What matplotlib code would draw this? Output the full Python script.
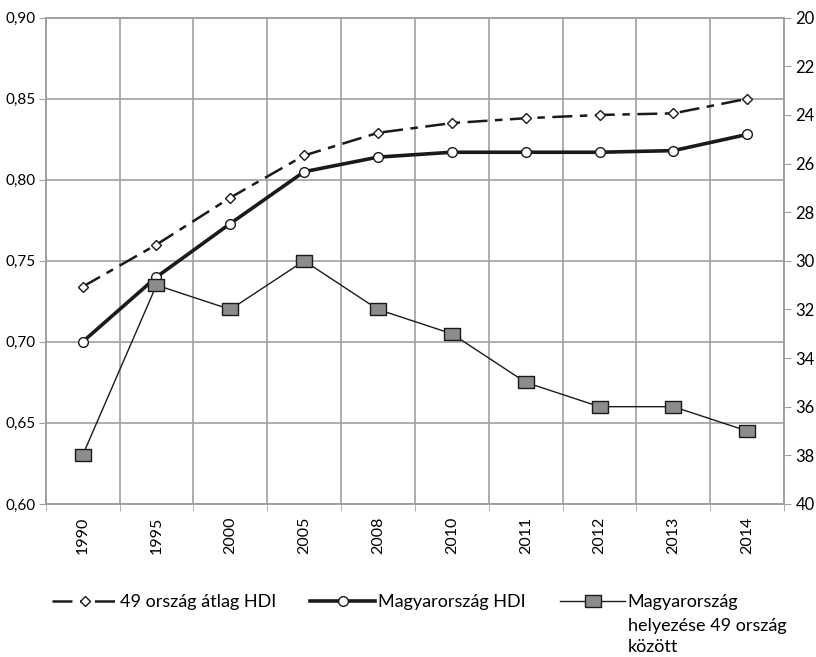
import matplotlib.pyplot as plt
from matplotlib.ticker import FuncFormatter, FixedLocator, NullFormatter
import numpy as np

plt.rcParams['font.family'] = ['Lato', 'DejaVu Sans']

# data
years = ['1990', '1995', '2000', '2005', '2008', '2010', '2011', '2012', '2013', '2014']
avg_hdi = [0.734, 0.760, 0.789, 0.815, 0.829, 0.835, 0.838, 0.840, 0.841, 0.850]
hun_hdi = [0.700, 0.740, 0.773, 0.805, 0.814, 0.817, 0.817, 0.817, 0.818, 0.828]
hun_rank = [38, 31, 32, 30, 32, 33, 35, 36, 36, 37]

grid_c = '#a0a0a0'
# slightly wide rectangle marker, like the original
rect = [(-1.35, -1), (1.35, -1), (1.35, 1), (-1.35, 1), (-1.35, -1)]

fig = plt.figure(figsize=(8.16, 6.57), dpi=100)
ax = fig.add_axes([0.056, 0.233, 0.905, 0.74])
ax2 = ax.twinx()

x = np.arange(len(years))

l1, = ax.plot(x, avg_hdi, color='#1a1a1a', lw=1.8, dashes=(8, 3, 3, 3),
              marker='D', ms=5, mfc='white', mec='#1a1a1a', mew=1.0, zorder=3)
l2, = ax.plot(x, hun_hdi, color='#1a1a1a', lw=2.6,
              marker='o', ms=7, mfc='white', mec='#1a1a1a', mew=1.0, zorder=3)
l3, = ax2.plot(x, hun_rank, color='#1a1a1a', lw=1.0,
               marker=rect, ms=12, mfc='#8c8c8c', mec='#1a1a1a', mew=1.0, zorder=3)

ax.set_xlim(-0.5, len(years) - 0.5)
ax.set_ylim(0.60, 0.90)
ax.set_yticks(np.arange(0.60, 0.901, 0.05))
ax.yaxis.set_major_formatter(FuncFormatter(lambda v, p: f'{v:.2f}'.replace('.', ',')))
ax2.set_ylim(40, 20)
ax2.set_yticks(range(20, 41, 2))

ax.set_xticks(x)
ax.set_xticklabels(years, rotation=90)
ax.tick_params(axis='x', which='major', length=0, pad=9, labelsize=11.5)
ax.xaxis.set_minor_locator(FixedLocator(np.arange(-0.5, len(years), 1)))
ax.xaxis.set_minor_formatter(NullFormatter())
ax.tick_params(axis='x', which='minor', length=5, color=grid_c)
ax.grid(True, which='minor', axis='x', color=grid_c, lw=1.2)
ax.grid(True, which='major', axis='y', color=grid_c, lw=1.2)
ax.set_axisbelow(True)

ax.tick_params(axis='y', length=5, color=grid_c, labelsize=11, pad=2)
ax2.tick_params(axis='y', length=5, color=grid_c, labelsize=12, pad=3)

for a in (ax, ax2):
    for s in a.spines.values():
        s.set_color(grid_c)
        s.set_linewidth(1.2)
    a.patch.set_visible(False)

# legend: third label wraps, first line level with the handle
leg = fig.legend([l1, l2, l3],
                 ['49 ország átlag HDI', 'Magyarország HDI', 'Magyarország'],
                 loc='center left', bbox_to_anchor=(0.064, 1 - 602 / 657), ncol=3,
                 frameon=False, fontsize=13, handlelength=3.6, handletextpad=0.15,
                 columnspacing=1.9, borderaxespad=0, borderpad=0)

fig.canvas.draw()
bb = leg.get_texts()[2].get_window_extent().transformed(fig.transFigure.inverted())
fig.text(bb.x0, bb.y1 - 24 / 657, 'helyezése 49 ország\nközött', fontsize=13,
         va='top', ha='left', linespacing=1.4)

fig.savefig('out.png', dpi=100)
